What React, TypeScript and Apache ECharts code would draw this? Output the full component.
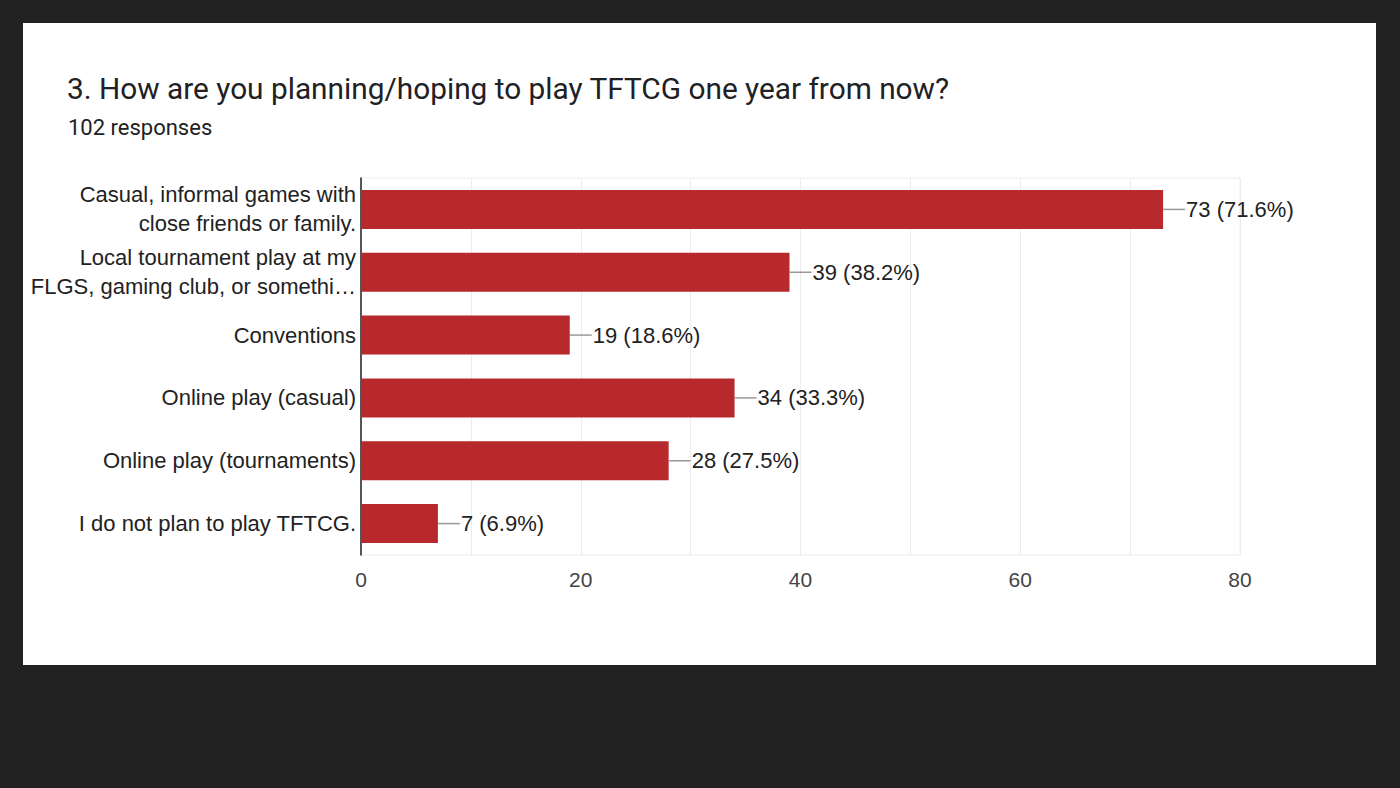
import React, { useEffect, useRef } from "react";
import * as echarts from "echarts";

const categories = [
  "Casual, informal games with\nclose friends or family.",
  "Local tournament play at my\nFLGS, gaming club, or somethi…",
  "Conventions",
  "Online play (casual)",
  "Online play (tournaments)",
  "I do not plan to play TFTCG.",
];
const counts = [73, 39, 19, 34, 28, 7];
const percents = ["71.6%", "38.2%", "18.6%", "33.3%", "27.5%", "6.9%"];
const xTicks = [0, 20, 40, 60, 80];

const ARIAL = "'Liberation Sans', Arial, sans-serif";

export default function App() {
  const ref = useRef<HTMLDivElement>(null);
  useEffect(() => {
    if (!ref.current) return;
    const chart = echarts.init(ref.current, null, { renderer: "svg" });
    const labelData = counts.map((v, i) => [v, i, `${v} (${percents[i]})`]);
    chart.setOption({
      animation: false,
      title: [
        {
          text: "3. How are you planning/hoping to play TFTCG one year from now?",
          left: 62,
          top: 68,
          textStyle: { fontFamily: "Roboto", fontSize: 29.8, fontWeight: "normal", color: "#202124" },
        },
        {
          text: "102 responses",
          left: 63,
          top: 111,
          textStyle: { fontFamily: "Roboto", fontSize: 22, fontWeight: "normal", color: "#202124" },
        },
      ],
      grid: {
        left: 361,
        right: 160,
        top: 178,
        bottom: 233,
        show: true,
        borderColor: "#ececec",
        borderWidth: 1,
      },
      xAxis: {
        type: "value",
        min: xTicks[0],
        max: xTicks[xTicks.length - 1],
        interval: 20,
        axisLine: { show: false },
        axisTick: { show: false },
        splitLine: { show: true, lineStyle: { color: "#ececec", width: 1 } },
        minorTick: { show: false, splitNumber: 2 },
        minorSplitLine: { show: true, lineStyle: { color: "#ececec", width: 1 } },
        axisLabel: {
          margin: 14,
          fontFamily: ARIAL,
          fontSize: 21,
          color: "#444444",
        },
      },
      yAxis: {
        type: "category",
        data: categories,
        inverse: true,
        axisLine: { show: true, lineStyle: { color: "#222222", width: 1.5 } },
        axisTick: { show: false },
        splitLine: { show: false },
        axisLabel: {
          margin: 5,
          fontFamily: ARIAL,
          fontSize: 22,
          lineHeight: 29,
          color: "#222222",
          align: "right",
        },
      },
      series: [
        {
          type: "bar",
          data: counts,
          barCategoryGap: "38%",
          itemStyle: { color: "#b7292c" },
          z: 2,
        },
        {
          type: "custom",
          data: labelData,
          encode: { x: 0, y: 1 },
          z: 3,
          renderItem: (params: any, api: any) => {
            const p = api.coord([api.value(0), api.value(1)]);
            const txt = labelData[params.dataIndex][2] as string;
            return {
              type: "group",
              children: [
                {
                  type: "line",
                  shape: { x1: p[0], y1: p[1], x2: p[0] + 22, y2: p[1] },
                  style: { stroke: "#999999", lineWidth: 1.5 },
                },
                {
                  type: "text",
                  x: p[0] + 23,
                  y: p[1],
                  style: {
                    text: txt,
                    fontFamily: ARIAL,
                    fontSize: 22,
                    fill: "#222222",
                    verticalAlign: "middle",
                    align: "left",
                  },
                },
              ],
            };
          },
        },
      ],
    });
    return () => chart.dispose();
  }, []);
  return (
    <div style={{ position: "fixed", left: 0, top: 0, width: 1400, height: 788, background: "#222222" }}>
      <div style={{ position: "absolute", left: 23, top: 23, width: 1353, height: 642, background: "#ffffff" }} />
      <div ref={ref} style={{ position: "absolute", left: 0, top: 0, width: 1400, height: 788 }} />
    </div>
  );
}
